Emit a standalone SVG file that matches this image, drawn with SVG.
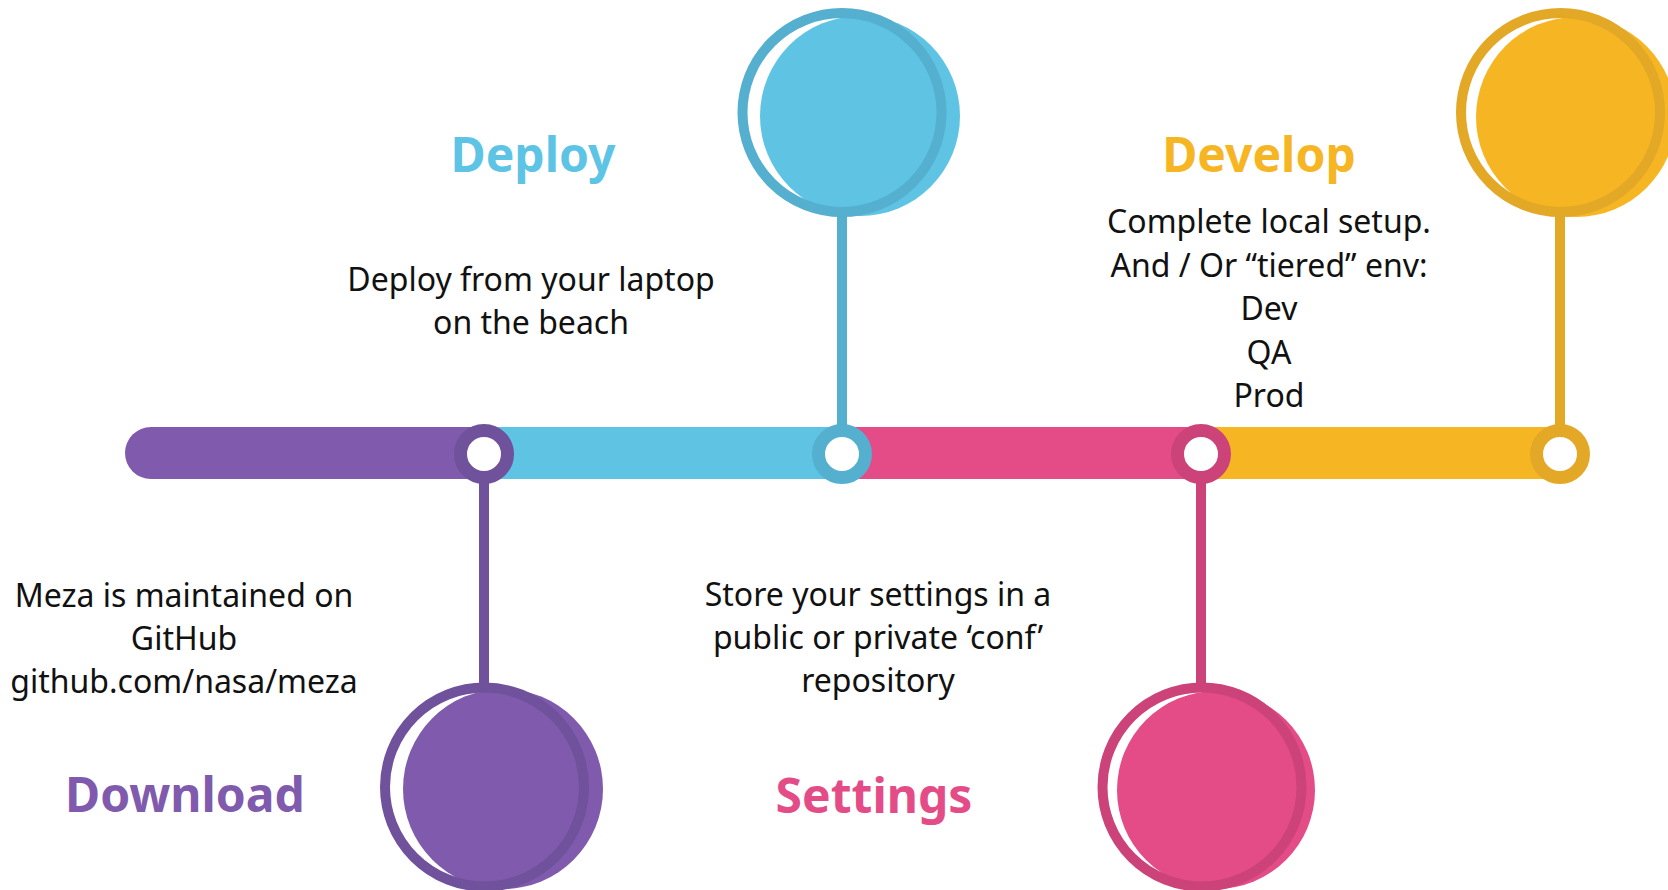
<svg xmlns="http://www.w3.org/2000/svg" width="1668" height="890" viewBox="0 0 1668 890">
<style>
.body{font-family:"Noto Sans","Open Sans","Liberation Sans",sans-serif;font-size:32px;fill:#111;text-anchor:middle}
.title{font-family:"Noto Sans","Open Sans","Liberation Sans",sans-serif;font-size:48px;font-weight:bold;text-anchor:middle}
.ring{fill:none;stroke-width:10}
.node{fill:#fff;stroke-width:13}
.stem{stroke-width:10}
</style>
<rect width="1668" height="890" fill="#fff"/>
<g id="connectors">
<line class="stem" x1="484" y1="454" x2="484" y2="684" stroke="#70519B"/>
<line class="stem" x1="842" y1="215" x2="842" y2="454" stroke="#55AFCF"/>
<line class="stem" x1="1201" y1="454" x2="1201" y2="684" stroke="#CC437A"/>
<line class="stem" x1="1560" y1="215" x2="1560" y2="454" stroke="#E3A826"/>
</g>
<g id="timeline">
<path d="M151 427 H484 V479 H151 A26 26 0 0 1 151 427 Z" fill="#7F5AAD"/>
<rect x="484" y="427" width="358" height="52" fill="#5FC3E4"/>
<rect x="842" y="427" width="359" height="52" fill="#E44C87"/>
<rect x="1201" y="427" width="360" height="52" fill="#F6B624"/>
</g>
<g id="download">
<circle cx="503" cy="789" r="100" fill="#7F5AAD"/>
<circle class="ring" cx="484.5" cy="787" r="99.5" stroke="#70519B"/>
<circle class="node" cx="484" cy="454" r="23.5" stroke="#70519B"/>
<text class="title" x="185" y="812" fill="#7F5AAD">Download</text>
<text class="body" x="184" y="607">Meza is maintained on</text>
<text class="body" x="184" y="650">GitHub</text>
<text class="body" x="184" y="693">github.com/nasa/meza</text>
</g>
<g id="deploy">
<circle cx="860" cy="116" r="100" fill="#5FC3E4"/>
<circle class="ring" cx="842" cy="112.5" r="99.5" stroke="#55AFCF"/>
<circle class="node" cx="842" cy="454" r="23.5" stroke="#55AFCF"/>
<text class="title" x="533" y="172" fill="#5EC4E6">Deploy</text>
<text class="body" x="531" y="291">Deploy from your laptop</text>
<text class="body" x="531" y="334">on the beach</text>
</g>
<g id="settings">
<circle cx="1216" cy="790" r="99" fill="#E44C87"/>
<circle class="ring" cx="1202" cy="787" r="99.5" stroke="#CC437A"/>
<circle class="node" cx="1201" cy="454" r="23.5" stroke="#CC437A"/>
<text class="title" x="874" y="813" fill="#E44C87">Settings</text>
<text class="body" x="878" y="606">Store your settings in a</text>
<text class="body" x="878" y="649">public or private ‘conf’</text>
<text class="body" x="878" y="692">repository</text>
</g>
<g id="develop">
<circle cx="1576" cy="117" r="100" fill="#F6B624"/>
<circle class="ring" cx="1560.5" cy="112.5" r="99.5" stroke="#E3A826"/>
<circle class="node" cx="1560" cy="454" r="23.5" stroke="#E3A826"/>
<text class="title" x="1259" y="172" fill="#F6B624">Develop</text>
<text class="body" x="1269" y="233">Complete local setup.</text>
<text class="body" x="1269" y="277">And / Or “tiered” env:</text>
<text class="body" x="1269" y="320">Dev</text>
<text class="body" x="1269" y="364">QA</text>
<text class="body" x="1269" y="407">Prod</text>
</g>
</svg>
